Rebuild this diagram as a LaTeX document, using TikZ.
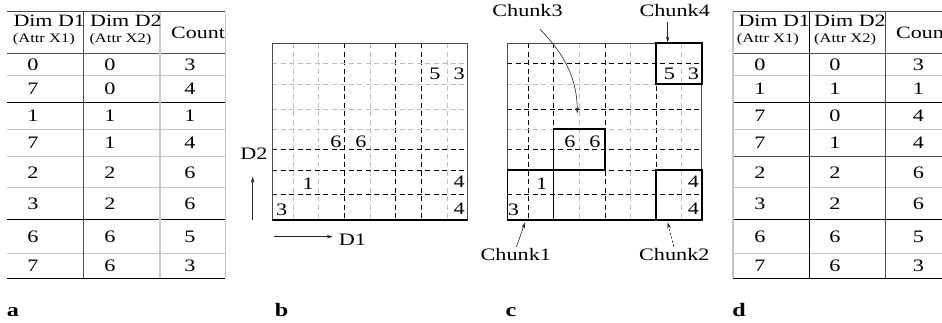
\documentclass[tikz,border=0pt]{standalone}
\usepackage{fontspec}
\setmainfont{Liberation Serif}
\usepackage{graphicx}
\usetikzlibrary{arrows.meta}
\newcommand{\ws}[1]{\scalebox{1.27}[1]{#1}}
\tikzset{
  val/.style={inner sep=0pt, font=\fontsize{17.5}{19}\selectfont},
  hd/.style={inner sep=0pt, anchor=west, font=\fontsize{17.3}{19}\selectfont},
  subhd/.style={inner sep=0pt, anchor=west, font=\fontsize{13}{14}\selectfont},
  panellab/.style={inner sep=0pt, anchor=base, font=\fontsize{19}{21}\selectfont\bfseries},
  gdash/.style={gray!50, line width=0.8pt, dash pattern=on 5pt off 3.5pt},
  bdash/.style={black, line width=0.8pt, dash pattern=on 5pt off 3.5pt},
  tgrey/.style={gray!45, line width=1pt},
  tdark/.style={black!70, line width=0.9pt},
  tblack/.style={black, line width=1pt},
  gborder/.style={black!70, line width=0.8pt},
  gbottom/.style={black, line width=1.2pt},
  chunkbox/.style={draw, line width=1.6pt, inner sep=0pt},
  arr/.style={-{Stealth[length=6pt,width=3.5pt]}, line width=0.6pt, black!85},
}
\begin{document}
\begin{tikzpicture}[x=1pt,y=-1pt]
\useasboundingbox (0,0) rectangle (942,323);

% ---------------- table a ----------------
\draw[tdark] (7,11.7) -- (225,11.7);
\draw[tdark] (7,53.3) -- (225,53.3);
\foreach \yy in {75.7,129.3,156.7,188,253} \draw[tgrey] (7,\yy) -- (225,\yy);
\foreach \yy in {102.3,220,278} \draw[tblack] (7,\yy) -- (225,\yy);
\draw[tdark] (83,11.7) -- (83,278);
\draw[gray!40, line width=2pt] (160,11.7) -- (160,278);
\draw[tgrey] (225,11.7) -- (225,278);
\node[hd] (ah1) at (13.3,21.2) {\ws{Dim D1}};
\node[subhd] (as1) at (12.7,39.2) {\ws{(Attr X1)}};
\node[hd] (ah2) at (90,21.2) {\ws{Dim D2}};
\node[subhd] (as2) at (89.3,39.2) {\ws{(Attr X2)}};
\node[hd] (ah3) at (171,33) {\ws{Count}};
\foreach \yy/\p/\q/\s [count=\r] in {64.5/0/0/3, 89/7/0/4, 115.8/1/1/1, 143/7/1/4, 172.3/2/2/6, 204/3/2/6, 236.5/6/6/5, 265.5/7/6/3} {
  \node[val] (a\r-1) at (33,\yy) {\ws{\p}};
  \node[val] (a\r-2) at (110,\yy) {\ws{\q}};
  \node[val] (a\r-3) at (190,\yy) {\ws{\s}};
}
\node[panellab] (la) at (13,316.5) {\ws{a}};

% ---------------- grid b ----------------
\foreach \xx in {293.3,318.7,370,447.3} \draw[gdash] (\xx,43.3) -- (\xx,220);
\foreach \xx in {344.7,395.7,421.7} \draw[bdash] (\xx,43.3) -- (\xx,220);
\foreach \yy in {63.3,84,109.3,129.3} \draw[gdash] (272.3,\yy) -- (467.7,\yy);
\foreach \yy in {149.3,170,194.3} \draw[bdash] (272.3,\yy) -- (467.7,\yy);
\draw[gborder] (272.3,220) -- (272.3,43.3) -- (467.7,43.3) -- (467.7,220);
\draw[gbottom] (272.3,220) -- (467.7,220);
\node[val] (b1) at (435,74) {\ws{5}};
\node[val] (b2) at (459.3,74) {\ws{3}};
\node[val] (b3) at (336,141.7) {\ws{6}};
\node[val] (b4) at (361,141.7) {\ws{6}};
\node[val] (b5) at (308.3,183.3) {\ws{1}};
\node[val] (b6) at (459.3,181.7) {\ws{4}};
\node[val] (b7) at (281.7,209.3) {\ws{3}};
\node[val] (b8) at (459.3,208.3) {\ws{4}};
\node[val] (d2lab) at (254,154) {\ws{D2}};
\node[val] (d1lab) at (352.5,240) {\ws{D1}};
\coordinate (upS) at (252.7,220);
\coordinate (upE) at (252.7,176.7);
\coordinate (rtS) at (274,236.7);
\coordinate (rtE) at (332.7,236.7);
\draw[arr] (upS) -- (upE);
\draw[arr] (rtS) -- (rtE);
\node[panellab] (lb) at (281.7,316.5) {\ws{b}};

% ---------------- grid c ----------------
\foreach \xx in {579,630.7,681.7} \draw[gdash] (\xx,43.3) -- (\xx,220);
\foreach \xx in {528.3,553.3,605,656} \draw[bdash] (\xx,43.3) -- (\xx,220);
\foreach \yy in {84,129.3} \draw[gdash] (507.3,\yy) -- (701.7,\yy);
\foreach \yy in {63.3,109.3,149.3,170,194.3} \draw[bdash] (507.3,\yy) -- (701.7,\yy);
\draw[gborder] (507.3,220) -- (507.3,43.3) -- (701.7,43.3) -- (701.7,220);
\draw[gbottom] (507.3,220) -- (701.7,220);
\node[chunkbox, minimum width=45.7pt, minimum height=40.7pt] (ch4) at (678.85,63.65) {};
\node[chunkbox, minimum width=51.7pt, minimum height=40.7pt] (ch3) at (579.15,149.65) {};
\node[chunkbox, minimum width=46pt, minimum height=50pt] (ch1) at (530.3,195) {};
\node[chunkbox, minimum width=45.7pt, minimum height=50pt] (ch2) at (678.85,195) {};
\node[val] (c1) at (669.3,74) {\ws{5}};
\node[val] (c2) at (693.3,74) {\ws{3}};
\node[val] (c3) at (570,141.7) {\ws{6}};
\node[val] (c4) at (595,141.7) {\ws{6}};
\node[val] (c5) at (541.7,183.3) {\ws{1}};
\node[val] (c6) at (693.3,181.7) {\ws{4}};
\node[val] (c7) at (513.3,209.3) {\ws{3}};
\node[val] (c8) at (693.3,208.3) {\ws{4}};
\node[val] (lab3) at (527.5,11) {\ws{Chunk3}};
\node[val] (lab4) at (674.7,11) {\ws{Chunk4}};
\node[val] (lab1) at (515.8,255) {\ws{Chunk1}};
\node[val] (lab2) at (674.3,255) {\ws{Chunk2}};
\coordinate (c4tip) at (667.7,42.5);
\coordinate (c3start) at (540,29.3);
\coordinate (c3tip) at (577.3,113.3);
\coordinate (c1tip) at (525,222.5);
\coordinate (c2tip) at (667.7,222.5);
\draw[arr, shorten <=5pt] (lab4.south -| c4tip) -- (c4tip);
\draw[arr] (c3start) .. controls (556,46) and (577,70) .. (c3tip);
\draw[arr, shorten <=2pt] (lab1.north) -- (c1tip);
\draw[arr, shorten <=2pt, dash pattern=on 2.5pt off 1.5pt] (lab2.north) -- (c2tip);
\node[panellab] (lc) at (511,316.5) {\ws{c}};

% ---------------- table d ----------------
\draw[tdark] (732.7,11.7) -- (950,11.7);
\draw[tdark] (732.7,53.3) -- (950,53.3);
\foreach \yy in {75.7,129.3,188,253} \draw[tgrey] (732.7,\yy) -- (950,\yy);
\draw[tdark] (732.7,156.7) -- (950,156.7);
\foreach \yy in {102.3,220,278} \draw[tblack] (732.7,\yy) -- (950,\yy);
\draw[gray!45, line width=1.6pt] (732.7,11.7) -- (732.7,278);
\draw[tblack] (809.3,11.7) -- (809.3,278);
\draw[tdark] (885.7,11.7) -- (885.7,278);
\node[hd] (dh1) at (738.3,21.2) {\ws{Dim D1}};
\node[subhd] (ds1) at (736.7,39.2) {\ws{(Attr X1)}};
\node[hd] (dh2) at (814,21.2) {\ws{Dim D2}};
\node[subhd] (ds2) at (814,39.2) {\ws{(Attr X2)}};
\node[hd] (dh3) at (896,33) {\ws{Count}};
\foreach \yy/\p/\q/\s [count=\r] in {64.5/0/0/3, 89/1/1/1, 115.8/7/0/4, 143/7/1/4, 172.3/2/2/6, 204/3/2/6, 236.5/6/6/5, 265.5/7/6/3} {
  \node[val] (d\r-1) at (760,\yy) {\ws{\p}};
  \node[val] (d\r-2) at (835,\yy) {\ws{\q}};
  \node[val] (d\r-3) at (918.3,\yy) {\ws{\s}};
}
\node[panellab] (ld) at (739,316.5) {\ws{d}};
\end{tikzpicture}
\end{document}
